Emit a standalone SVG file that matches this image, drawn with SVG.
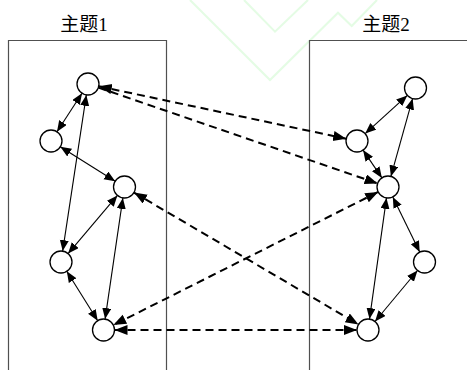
<svg xmlns="http://www.w3.org/2000/svg" width="467" height="370" viewBox="0 0 467 370">
<style>
.frame{fill:none;stroke:#505050;stroke-width:1.2}
.wm{fill:none;stroke:#e4fce4;stroke-width:2}
.node{fill:#fff;stroke:#000;stroke-width:1.3}
.solid{fill:none;stroke:#000;stroke-width:1.1;marker-start:url(#a);marker-end:url(#a)}
.dash{fill:none;stroke:#000;stroke-width:2;stroke-dasharray:8,5}
.lbl{font-family:"Liberation Serif","Noto Sans CJK SC",serif;font-size:19px;fill:#000;text-anchor:middle}
</style>
<defs>
<marker id="a" markerUnits="userSpaceOnUse" markerWidth="12" markerHeight="10" refX="11" refY="4.5" orient="auto-start-reverse"><path d="M0,0 L11,4.5 L0,9 Z" fill="#000"/></marker>
<marker id="d" markerUnits="userSpaceOnUse" markerWidth="14" markerHeight="12" refX="13" refY="5" orient="auto-start-reverse"><path d="M0,0 L13,5 L0,10 Z" fill="#000"/></marker>
</defs>
<g id="watermark">
<polyline class="wm" points="190,0 270,80 338,12.7 351.7,26 377,0"/>
<polyline class="wm" points="244,0 275,31.7 308,0"/>
</g>
<g id="topic1">
<path class="frame" d="M8.5,370 V40.5 H166.5 V370"/>
<text class="lbl" x="84" y="31">主题1</text>
</g>
<g id="topic2">
<path class="frame" d="M309.5,370 V40.5 H467"/>
<text class="lbl" x="386" y="31">主题2</text>
</g>
<g id="connectors">
<line class="solid" x1="82" y1="93.2" x2="57" y2="131.8"/>
<line class="solid" x1="86.35" y1="94.9" x2="62.65" y2="251.1"/>
<line class="solid" x1="60.3" y1="146.8" x2="115.2" y2="181.2"/>
<line class="solid" x1="117.4" y1="195.4" x2="68.1" y2="253.6"/>
<line class="solid" x1="122.9" y1="197.9" x2="105.1" y2="319.1"/>
<line class="solid" x1="66.8" y1="271.3" x2="97.7" y2="320.7"/>
<line class="solid" x1="407.3" y1="95.4" x2="365.2" y2="133.6"/>
<line class="solid" x1="412.6" y1="98.6" x2="390.9" y2="176.4"/>
<line class="solid" x1="363.1" y1="150.1" x2="381.9" y2="177.9"/>
<line class="solid" x1="392.8" y1="196.9" x2="419.7" y2="252.1"/>
<line class="solid" x1="386.5" y1="197.9" x2="369.5" y2="319.1"/>
<line class="solid" x1="417.5" y1="270.5" x2="375" y2="321.5"/>
<line class="dash" x1="98.8" y1="86.3" x2="346.2" y2="138.7" marker-start="url(#d)" marker-end="url(#d)"/>
<line class="dash" x1="98.4" y1="87.6" x2="377.6" y2="183.4" marker-end="url(#d)"/>
<line class="dash" x1="134" y1="192.6" x2="358.5" y2="324.4" marker-start="url(#d)" marker-end="url(#d)"/>
<line class="dash" x1="378.2" y1="191.9" x2="113.3" y2="325.1" marker-start="url(#d)" marker-end="url(#d)"/>
<line class="dash" x1="114.5" y1="330" x2="357" y2="330" marker-start="url(#d)" marker-end="url(#d)"/>
</g>
<g id="n1"><circle class="node" cx="88" cy="84" r="11"/></g>
<g id="n2"><circle class="node" cx="51" cy="141" r="11"/></g>
<g id="n3"><circle class="node" cx="124.5" cy="187" r="11"/></g>
<g id="n4"><circle class="node" cx="61" cy="262" r="11"/></g>
<g id="n5"><circle class="node" cx="103.5" cy="330" r="11"/></g>
<g id="r1"><circle class="node" cx="415.5" cy="88" r="11"/></g>
<g id="r2"><circle class="node" cx="357" cy="141" r="11"/></g>
<g id="r3"><circle class="node" cx="388" cy="187" r="11"/></g>
<g id="r4"><circle class="node" cx="424.5" cy="262" r="11"/></g>
<g id="r5"><circle class="node" cx="368" cy="330" r="11"/></g>
</svg>
